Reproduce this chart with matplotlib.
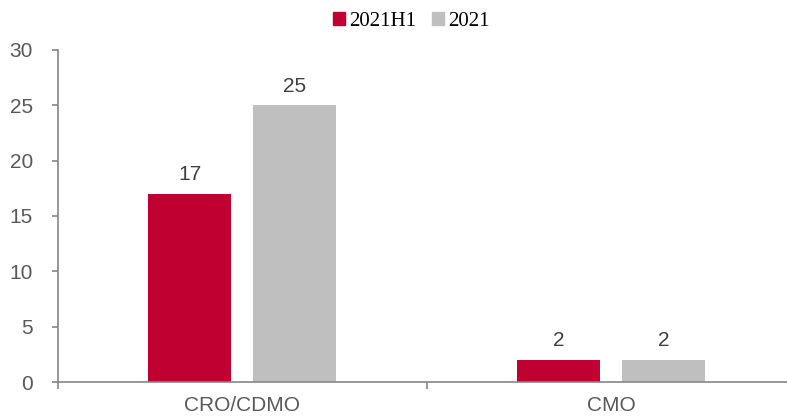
import matplotlib
matplotlib.use("Agg")
import matplotlib.pyplot as plt
from matplotlib.patches import Patch

categories = ["CRO/CDMO", "CMO"]
series_names = ["2021H1", "2021"]
values_h1 = [17, 2]
values_full = [25, 2]
colors = ["#C00030", "#BFBFBF"]

fig = plt.figure(figsize=(7.87, 4.16), dpi=100)
W, H = 787, 416
left_px, right_px = 57.7, 787
ax = fig.add_axes([left_px / W, 34 / H, (right_px - left_px) / W, (366 - 34) / H])

x = list(range(len(categories)))
bw = 0.225
off = 0.142
b1 = ax.bar([i - off for i in x], values_h1, bw, color=colors[0])
b2 = ax.bar([i + off for i in x], values_full, bw, color=colors[1])

for bars, vals in ((b1, values_h1), (b2, values_full)):
    for r, v in zip(bars, vals):
        ax.annotate(f"{v}", (r.get_x() + r.get_width() / 2, v), xytext=(0, 7),
                    textcoords="offset points", ha="center", va="bottom",
                    fontsize=15, color="#404040", family="Liberation Sans")

cat_px = 369.0
ax.set_xlim(-0.5, -0.5 + (right_px - left_px) / cat_px)
ax.set_ylim(0, 30)
ax.set_yticks(range(0, 31, 5))
ax.set_xticks(x)
ax.set_xticklabels(categories)
ax.set_xticks([-0.5, 0.5], minor=True)

for s in ("top", "right"):
    ax.spines[s].set_visible(False)
for s in ("left", "bottom"):
    ax.spines[s].set_color("#868686")
    ax.spines[s].set_linewidth(1.2)

ax.tick_params(axis="x", which="major", length=0, pad=10, labelsize=15, labelcolor="#595959")
ax.tick_params(axis="x", which="minor", length=5, width=1.2, color="#868686")
ax.tick_params(axis="y", length=4.3, width=1.2, color="#868686", labelsize=15, labelcolor="#595959", pad=13.5)
for lab in ax.get_xticklabels() + ax.get_yticklabels():
    lab.set_family("Liberation Sans")

handles = [Patch(color=c, label=n) for c, n in zip(colors, series_names)]
fig.legend(handles=handles, loc="center", bbox_to_anchor=(0.523, 1 - 21 / H),
           ncol=2, frameon=False, prop={"family": "Liberation Serif", "size": 15},
           handlelength=0.58, handleheight=0.58, handletextpad=0.2, columnspacing=0.77,
           borderpad=0, borderaxespad=0)

fig.savefig("out.png", dpi=100)
